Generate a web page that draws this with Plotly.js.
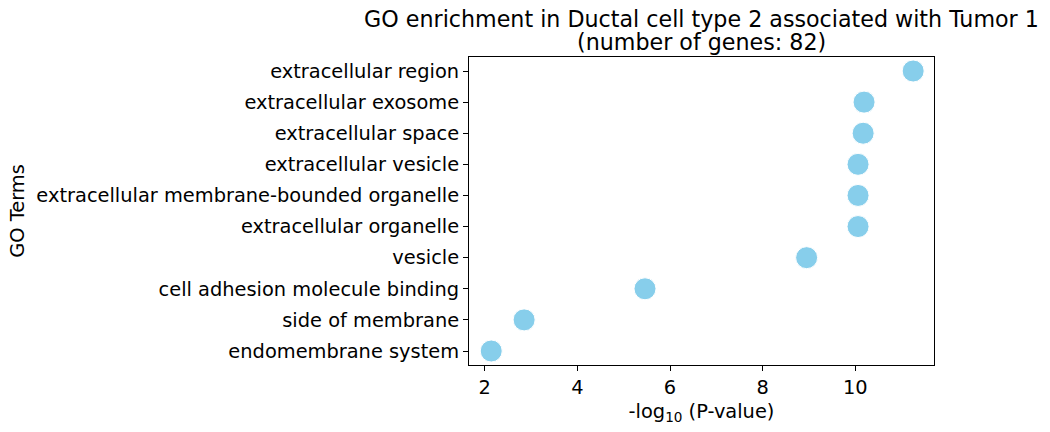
<!DOCTYPE html>
<html>
<head>
<meta charset="utf-8">
<script src="https://cdn.plot.ly/plotly-3.0.1.min.js"></script>
<style>
  html, body { margin: 0; padding: 0; background: #ffffff; }
  #chart { width: 1050px; height: 432px; }
</style>
</head>
<body>
<div id="chart"></div>
<script>
// GO terms, listed top to bottom
const goTerms = [
  "extracellular region",
  "extracellular exosome",
  "extracellular space",
  "extracellular vesicle",
  "extracellular membrane-bounded organelle",
  "extracellular organelle",
  "vesicle",
  "cell adhesion molecule binding",
  "side of membrane",
  "endomembrane system"
];
// -log10(P-value) for each term
const negLogP = [11.25, 10.19, 10.17, 10.06, 10.06, 10.06, 8.95, 5.46, 2.85, 2.14];
const xTicks = [2, 4, 6, 8, 10];
const titleMain = "GO enrichment in Ductal cell type 2 associated with Tumor 1";
const titleSub = "(number of genes: 82)";

const font = "DejaVu Sans, sans-serif";
const labelSize = 19.4;
const titleSize = 22.2;

const trace = {
  type: "scatter",
  mode: "markers",
  x: negLogP,
  y: goTerms,
  marker: {
    color: "#87CEEB",
    size: 22,
    line: { color: "#ffffff", width: 1 }
  },
  hoverinfo: "x+y"
};

const layout = {
  width: 1050,
  height: 432,
  paper_bgcolor: "#ffffff",
  plot_bgcolor: "#ffffff",
  margin: { l: 469, r: 116, t: 57, b: 67 },
  showlegend: false,
  font: { family: font, color: "#000000", size: labelSize },
  title: {
    text: titleMain,
    font: { family: font, size: titleSize, color: "#000000" },
    x: 0.5,
    xref: "paper",
    xanchor: "center",
    y: 1 - 19 / 432,
    yref: "container",
    yanchor: "middle"
  },
  // second title line, set tighter than the default line spacing
  annotations: [{
    text: titleSub,
    xref: "paper",
    yref: "paper",
    x: 0.5,
    y: 1,
    xanchor: "center",
    yanchor: "middle",
    yshift: 15,
    showarrow: false,
    font: { family: font, size: titleSize, color: "#000000" }
  }],
  xaxis: {
    range: [1.66, 11.7],
    tickvals: xTicks,
    ticktext: xTicks.map(String),
    showgrid: false,
    zeroline: false,
    showline: true,
    linecolor: "#000000",
    linewidth: 1,
    mirror: true,
    ticks: "outside",
    ticklen: 5,
    tickwidth: 1,
    tickcolor: "#000000",
    tickfont: { family: font, size: labelSize, color: "#000000" },
    title: {
      text: "-log<sub>10</sub> (P-value)",
      font: { family: font, size: labelSize, color: "#000000" },
      standoff: 6
    }
  },
  yaxis: {
    type: "category",
    categoryorder: "array",
    categoryarray: goTerms.slice().reverse(),
    range: [-0.45, 9.45],
    showgrid: false,
    zeroline: false,
    showline: true,
    linecolor: "#000000",
    linewidth: 1,
    mirror: true,
    ticks: "outside",
    ticklen: 5,
    tickwidth: 1,
    tickcolor: "#000000",
    tickfont: { family: font, size: labelSize, color: "#000000" },
    title: {
      text: "GO Terms",
      font: { family: font, size: labelSize, color: "#000000" },
      standoff: 6
    }
  }
};

Plotly.newPlot("chart", [trace], layout, { displayModeBar: false, staticPlot: true });
</script>
</body>
</html>
